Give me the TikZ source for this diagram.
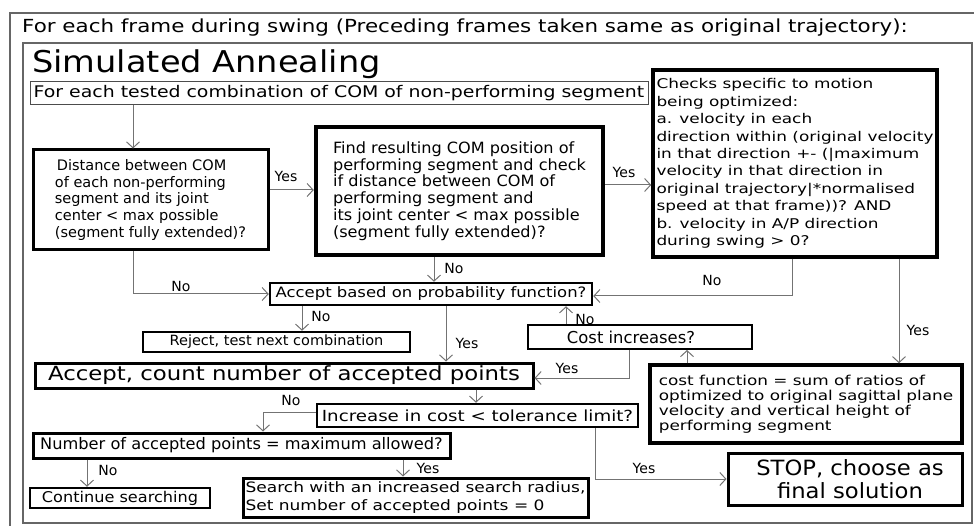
\documentclass[tikz,border=0pt]{standalone}
\usepackage{fontspec}
\setmainfont{DejaVu Sans}
\usetikzlibrary{arrows.meta}

\newcommand{\tam}[2]{\fontsize{#1}{#2}\selectfont}
\newcommand{\ancho}[1]{\addfontfeatures{FakeStretch=#1}}

\tikzset{
  caja/.style={draw, line width=3pt, inner sep=0pt, align=center},
  flecha/.style={draw=black!55, line width=1pt, -{Straight Barb[length=6pt,width=13pt]}},
  etiqueta/.style={inner sep=0pt, font=\tam{14}{16}},
  marco/.style={draw=black!60, line width=1.3pt}
}

\begin{document}
\begin{tikzpicture}[x=1pt, y=-1pt]
    \useasboundingbox (0,0) rectangle (974,526);

    % Marcos
    \draw[marco] (10,13) rectangle (990,540);
    \draw[marco] (23,43) rectangle (972,523);
    \node[anchor=west, inner sep=0pt, font=\tam{18}{20}\ancho{1.19}] (titulo) at (22,28) {For each frame during swing (Preceding frames taken same as original trajectory):};
    \node[anchor=west, inner sep=0pt, font=\tam{30}{34}\ancho{1.12}] (recocido) at (32,64) {Simulated Annealing};

    % Cajas de arriba
    \node[caja, line width=1pt, draw=black!70, minimum width=618pt, minimum height=23pt, font=\tam{16}{20}\ancho{1.18}] (probadas) at (339,93.5) {For each tested combination of COM of non-performing segment};
    \node[caja, minimum width=235pt, minimum height=100pt, align=left, font=\tam{14.5}{16.7}] (distancia) at (150.5,200)
      {\hspace{2pt}Distance between COM\\of each non-performing\\segment and its joint\\center < max possible\\(segment fully extended)?};
    \node[caja, line width=4.5pt, minimum width=287pt, minimum height=128pt, align=left, font=\tam{15.5}{16.7}\ancho{1.04}] (posicion) at (459.5,191)
      {Find resulting COM position of\\performing segment and check\\if distance between COM of\\performing segment and\\its joint center < max possible\\(segment fully extended)?};
    \node[caja, line width=3.5pt, minimum width=284pt, minimum height=187pt, align=left, font=\tam{13.4}{17.4}\ancho{1.26}] (chequeos) at (795,163.5)
      {Checks specific to motion\\being optimized:\\a. velocity in each\\direction within (original velocity\\in that direction +- (|maximum\\velocity in that direction in\\original trajectory|*normalised\\speed at that frame))? AND\\b. velocity in A/P direction\\during swing > 0?};

    % Cajas del medio
    \node[caja, line width=2.5pt, minimum width=322pt, minimum height=22pt, font=\tam{14.3}{16}\ancho{1.15}] (probab) at (431,294) {Accept based on probability function?};
    \node[caja, line width=2.5pt, minimum width=267pt, minimum height=20pt, font=\tam{14.1}{16}\ancho{1.03}] (rechazo) at (276.5,342) {Reject, test next combination};
    \node[caja, minimum width=498pt, minimum height=25pt, font=\tam{19.5}{22}\ancho{1.17}] (aceptar) at (284,375.5) {Accept, count number of accepted points};
    \node[caja, line width=2pt, minimum width=224pt, minimum height=24pt, font=\tam{16.4}{18}] (costesube) at (640,337) {Cost increases?\hspace{18pt}};
    \node[caja, line width=3.5pt, minimum width=312pt, minimum height=78pt, align=left, font=\tam{13.6}{15}\ancho{1.24}] (funcion) at (806,404)
      {cost function = sum of ratios of\\optimized to original sagittal plane\\velocity and vertical height of\\performing segment};

    % Cajas de abajo
    \node[caja, line width=2.5pt, minimum width=321pt, minimum height=23pt, font=\tam{15.3}{17}\ancho{1.19}] (tolerancia) at (477.5,415.5) {Increase in cost < tolerance limit?};
    \node[caja, minimum width=417pt, minimum height=25pt, font=\tam{15.9}{17}\ancho{1.02}] (maximo) at (241.5,445.5) {Number of accepted points = maximum allowed?};
    \node[caja, line width=2.5pt, minimum width=180pt, minimum height=20pt, font=\tam{14.8}{16}\ancho{1.09}] (seguir) at (120,498) {Continue searching};
    \node[caja, minimum width=345pt, minimum height=39pt, align=left, font=\tam{14.3}{18}\ancho{1.19}] (radio) at (415.5,497.5)
      {Search with an increased search radius,\\Set number of accepted points = 0};
    \node[caja, minimum width=234pt, minimum height=52pt, font=\tam{21}{23}\ancho{1.08}] (parar) at (845,479) {\hspace{10pt}STOP, choose as\\\hspace{10pt}final solution};

    % Flechas
    \draw[flecha] ([xshift=-17.5pt]distancia.north |- probadas.south) -- ([xshift=-17.5pt]distancia.north);
    \draw[flecha] ([yshift=10pt]distancia.east) -- ([yshift=10pt]distancia.east -| posicion.west);
    \draw[flecha] ([yshift=6pt]posicion.east) -- ([yshift=6pt]posicion.east -| chequeos.west);
    \draw[flecha] ([xshift=-17.5pt]distancia.south) |- (probab.west);
    \draw[flecha] ([xshift=-25.5pt]posicion.south) -- ([xshift=-25.5pt]posicion.south |- probab.north);
    \draw[flecha] ([xshift=-3pt]chequeos.south) |- ([yshift=-2pt]probab.east);
    \draw[flecha] ([xshift=104pt]chequeos.south) -- ([xshift=104pt]chequeos.south |- funcion.north);
    \draw[flecha] ([xshift=-129pt]probab.south) -- ([xshift=-129pt]probab.south |- rechazo.north);
    \draw[flecha] ([xshift=15pt]probab.south) -- ([xshift=15pt]probab.south |- aceptar.north);
    \draw[flecha] ([xshift=-74pt]costesube.north) -- ([xshift=-74pt]costesube.north |- probab.south);
    \draw[flecha] ([xshift=-11pt]costesube.south) |- ([yshift=-2.5pt]aceptar.east);
    \draw[flecha] ([xshift=-119pt]funcion.north) -- ([xshift=-119pt]funcion.north |- costesube.south);
    \draw[flecha] ([xshift=192pt]aceptar.south) -- ([xshift=192pt]aceptar.south |- tolerancia.north);
    \draw[flecha] ([yshift=3.5pt]tolerancia.west) -| ([xshift=21.5pt]maximo.north);
    \draw[flecha] ([xshift=117.5pt]tolerancia.south) |- (parar.west);
    \draw[flecha] ([xshift=-154.5pt]maximo.south) -- ([xshift=-154.5pt]maximo.south |- seguir.north);
    \draw[flecha] ([xshift=161.5pt]maximo.south) -- ([xshift=161.5pt]maximo.south |- radio.north);

    % Etiquetas
    \node[etiqueta] (si1) at (286,176) {Yes};
    \node[etiqueta] (si2) at (624,172) {Yes};
    \node[etiqueta] (no1) at (454,268) {No};
    \node[etiqueta] (no2) at (181,286) {No};
    \node[etiqueta] (no3) at (712,280) {No};
    \node[etiqueta] (no4) at (321,316) {No};
    \node[etiqueta] (si3) at (467,343) {Yes};
    \node[etiqueta] (no5) at (585,319) {No};
    \node[etiqueta] (si4) at (567,368) {Yes};
    \node[etiqueta] (si5) at (918,330) {Yes};
    \node[etiqueta] (no6) at (291,400) {No};
    \node[etiqueta] (si6) at (644,468) {Yes};
    \node[etiqueta] (no7) at (108,470) {No};
    \node[etiqueta] (si7) at (428,468) {Yes};
\end{tikzpicture}
\end{document}
